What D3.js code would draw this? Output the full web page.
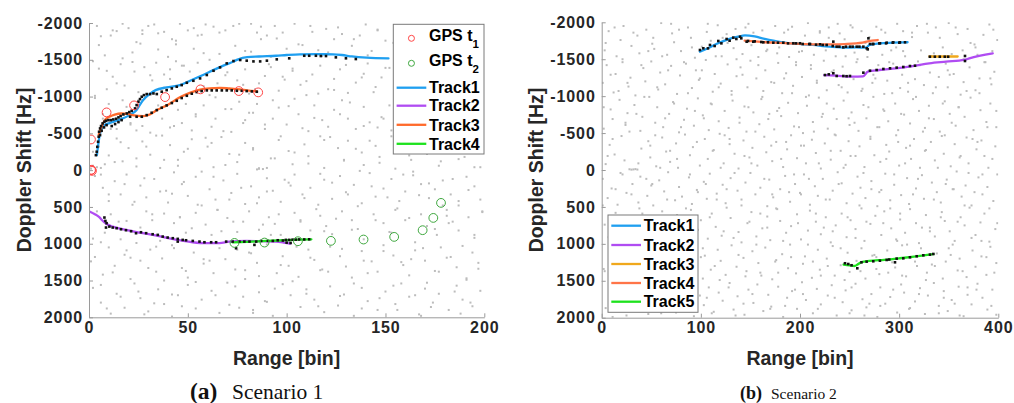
<!DOCTYPE html>
<html>
<head>
<meta charset="utf-8">
<script src="https://cdn.jsdelivr.net/npm/d3@7"></script>
<style>
  body { margin: 0; background: #fff; }
  svg { display: block; }
  text { font-family: "Liberation Sans", Arial, Helvetica, sans-serif; }
</style>
</head>
<body>
<svg id="fig" width="1014" height="403"></svg>
<script>
// ---------------- shared ticks ----------------
const dopplerTicks = [-2000, -1500, -1000, -500, 0, 500, 1000, 1500, 2000];
const rangeTicksA = [0, 50, 100, 150, 200];
const rangeTicksB = [0, 100, 200, 300, 400];

// ---------------- Scenario 1 : tracks ----------------
const track1RangeA   = [4, 5.6, 7.8, 10.3, 15.4, 20.5, 24, 27.3, 30.5, 33.7, 39.2, 46, 50, 56.5, 66.3, 72.8, 75.5, 80, 86, 94.7, 100, 106.7, 115, 123.5, 128, 133, 140.4, 151.5];
const track1DopplerA = [-204, -499, -612, -640, -685, -748, -816, -950, -1030, -1088, -1124, -1156, -1201, -1280, -1400, -1474, -1506, -1535, -1545, -1555, -1565, -1574, -1576, -1574, -1565, -1545, -1528, -1519];
const track2RangeA   = [0, 3, 5.2, 7, 8.6, 12, 18.7, 25.5, 32.2, 39, 45.7, 52.5, 59.2, 66, 71, 79.5, 87.9, 94.7, 98.5, 101.8];
const track2DopplerA = [560, 600, 640, 690, 725, 768, 812, 848, 880, 916, 952, 980, 993, 993, 972, 963, 966, 970, 985, 998];
const track3RangeA   = [4.9, 6.5, 8.3, 10.6, 13, 16.5, 19.5, 22, 27.5, 31, 34.3, 40, 46, 51, 56.2, 61, 66.3, 71, 76.5, 80, 85];
const track3DopplerA = [-480, -600, -690, -730, -755, -770, -765, -748, -735, -760, -816, -890, -990, -1050, -1095, -1112, -1118, -1110, -1098, -1085, -1072];
const track4RangeA   = [72.7, 80, 90, 99.7, 106, 112.5];
const track4DopplerA = [982, 975, 962, 952, 945, 940];

const gpsT1RangeA   = [1, 1, 1.5, 1.2, 8.9, 22.8, 38.5, 56.4, 75.8, 85.6];
const gpsT1DopplerA = [-417, 0, 10, -5, -785, -880, -993, -1098, -1075, -1057];
const gpsT2RangeA   = [73.6, 88.8, 105.7, 122.4, 138.9, 154.4, 168.8, 174.2, 178.1];
const gpsT2DopplerA = [989, 984, 966, 961, 943, 907, 816, 649, 445];

// plot detections [range, doppler]
const detectionsA = [
  [3.5,-204],[3.9,-250],[4.2,-317],[4.6,-386],[4.9,-454],[5.1,-522],[5.6,-567],[6.1,-599],[6.9,-635],[7.8,-658],
  [8.6,-671],[9.8,-680],[11,-680],[12.3,-689],[13.7,-698],[14.9,-717],[16,-735],[17.4,-757],[19.1,-771],[20.4,-789],
  [21.6,-807],[23.3,-839],[24.1,-884],[25,-930],[25.8,-966],[26.7,-998],[27.8,-1020],[29.2,-1034],[30.9,-1034],[32.6,-1043],
  [34.3,-1034],[36.8,-1066],[39.3,-1088],[41.9,-1111],[44.4,-1134],[46.9,-1156],[49.5,-1188],[52.8,-1215],[56.2,-1247],[59.6,-1293],
  [63,-1351],[66.3,-1397],[69.7,-1451],[73.1,-1483],[76.5,-1497],[79.8,-1488],[83.2,-1478],[86.6,-1478],[90,-1488],[95,-1506],
  [101.3,-1520],[108.9,-1555],[111.4,-1555],[114.8,-1555],[117.3,-1551],[119.9,-1551],[124.9,-1533],[130,-1520],[135,-1510],
  [5.6,-476],[6.4,-535],[7.6,-581],[8.9,-612],[11.5,-599],[13.2,-626],[14.9,-653],[16.5,-680],[20.8,-726],[24.1,-726],
  [26.7,-726],[29.2,-748],[31.7,-780],[34.3,-816],[36.8,-848],[39.3,-880],[41.9,-912],[44.4,-943],[46.9,-980],[49.5,-1011],
  [52,-1039],[54.5,-1061],[57,-1075],[59.6,-1084],[62.1,-1084],[64.6,-1084],[67.2,-1084],[69.7,-1084],[72.2,-1084],[74.8,-1079],
  [77.3,-1079],[79.8,-1075],[82.4,-1070],[84.9,-1066],
  [7.8,644],[8.3,690],[8.9,721],[8.6,780],[10.3,767],[12,780],[14,789],[16.2,803],[18.7,816],[21.3,830],
  [23.8,857],[26.3,844],[28.9,857],[32.2,871],[34.8,880],[37.3,903],[39.8,916],[42.4,925],[44.9,934],[44.9,971],
  [47.4,948],[49.1,953],[52.5,962],[55.9,971],[58.4,980],[61.8,980],[64.3,980],[69.4,971],[72.7,971],[74.4,1061],
  [76.1,971],[78.6,971],[81.2,971],[83.7,1016],[84.6,971],[87.1,962],[90.5,962],[93,962],[95.5,953],[98.1,957],
  [99.6,948],[101.3,948],[103,945],[104.6,945],[106.3,942],[108.9,942],[111.4,940],[100,985],[102,990]
];

// background detections (clutter) [range, doppler]
const clutterA = [
  [4,-1960],[6,-1820],[11,-1830],[14,-1890],[17,-1990],[20,-1930],[24,-1740],[26,-1720],[27,-1900],[30,-1960],
  [33,-1980],[35,-1860],[38,-1880],[42,-1780],[44,-1710],[46,-1990],[50,-1900],[55,-1830],[57,-1840],[59,-1980],
  [63,-1950],[69,-1900],[73,-1960],[76,-1990],[82,-1990],[85,-1870],[87,-1780],[90,-1830],[94,-1960],[98,-1870],
  [104,-1990],[108,-1700],[112,-1960],[116,-1630],[120,-1920],[124,-1780],[128,-1850],[133,-1690],[137,-1830],[140,-1980],
  [143,-1620],[146,-1900],[150,-1760],[8,-1560],[22,-1600],[40,-1540],[53,-1650],[66,-1580],[79,-1620],[92,-1540],[100,-1650],
  [2,-1480],[5,-1380],[9,-1100],[12,-1270],[16,-1440],[18,-1150],[23,-1340],[25,-1060],[28,-1400],[32,-1220],
  [34,-1460],[38,-1300],[41,-1370],[44,-1480],[48,-1420],[51,-1340],[55,-1460],[58,-1140],[61,-1020],[65,-1180],
  [69,-1290],[71,-1100],[75,-1220],[79,-1370],[81,-1040],[86,-1180],[89,-1280],[92,-1400],[96,-1080],[99,-1230],
  [103,-1350],[107,-1160],[110,-1020],[113,-1300],[117,-1420],[121,-1100],[124,-1240],[127,-1370],[131,-1050],[135,-1190],
  [139,-1310],[141,-1450],[145,-1130],[148,-1260],[152,-1390],
  [3,-980],[7,-760],[10,-900],[14,-560],[17,-950],[21,-620],[24,-540],[27,-600],[31,-510],[35,-880],
  [37,-700],[41,-580],[45,-820],[47,-640],[52,-540],[54,-760],[58,-880],[62,-590],[64,-700],[69,-830],
  [72,-520],[76,-930],[78,-640],[83,-780],[85,-900],[89,-560],[93,-700],[96,-850],[100,-620],[104,-970],
  [106,-760],[111,-530],[114,-880],[118,-680],[121,-590],[124,-820],[128,-950],[131,-700],[135,-560],[139,-860],
  [142,-650],[146,-580],[149,-700],[153,-540],[158,-640],[163,-600],[168,-680],[173,-540],[179,-620],[185,-580],
  [191,-660],[197,-520],
  [1,-20],[2,-60],[4,-40],[6,-30],[8,-80],[5,-320],[10,-200],[14,-430],[17,-120],[20,-300],
  [24,-50],[27,-390],[31,-210],[34,-470],[38,-140],[41,-340],[45,-60],[48,-250],[52,-420],[56,-160],
  [60,-320],[63,-40],[67,-450],[71,-220],[75,-110],[79,-370],[83,-280],[85,-10],[86,-25],[88,-15],
  [90,-30],[92,-160],[96,-410],[101,-260],[103,-80],[109,-350],[111,-190],[117,-460],[119,-30],[126,-300],
  [129,-140],[131,-400],[138,-240],[139,-70],[145,-330],[147,-180],[153,-460],[155,-20],[162,-280],[163,-140],
  [169,-390],[171,-220],[177,-60],[179,-330],[186,-460],[187,-150],[193,-260],[195,-40],[199,-380],
  [3,80],[7,240],[10,420],[13,150],[16,330],[19,60],[22,470],[26,210],[29,370],[33,120],
  [36,290],[40,440],[43,30],[47,190],[50,350],[54,90],[57,480],[61,260],[64,400],[68,140],
  [72,310],[75,50],[79,460],[82,220],[86,370],[90,110],[93,280],[97,430],[101,170],[104,60],
  [108,330],[112,240],[116,470],[119,130],[123,390],[127,80],[130,300],[134,200],[138,450],[142,40],
  [145,360],[149,250],[153,120],[157,420],[160,290],[164,70],[168,190],[172,380],[175,260],[179,140],
  [183,330],[187,480],[191,90],[195,220],[198,400],
  [2,930],[6,980],[8,700],[11,600],[16,940],[19,690],[24,990],[29,560],[32,680],[36,960],
  [38,590],[43,720],[46,640],[49,850],[54,580],[59,740],[62,880],[65,540],[70,650],[75,840],
  [78,700],[81,560],[86,810],[91,640],[94,730],[97,880],[104,580],[107,700],[112,820],[117,620],
  [120,760],[123,870],[128,560],[133,680],[136,800],[139,940],[144,600],[149,720],[152,840],[155,540],
  [160,680],[165,980],[168,600],[171,760],[176,880],[181,540],[184,700],[187,820],[192,640],[195,920],[199,560],
  [3,1180],[7,1420],[10,1050],[13,1300],[18,1150],[21,1480],[26,1230],[31,1080],[34,1380],[37,1200],
  [42,1020],[47,1330],[50,1460],[53,1120],[58,1270],[63,1400],[66,1060],[69,1210],[74,1350],[79,1480],
  [82,1130],[85,1260],[90,1010],[95,1400],[98,1170],[101,1300],[106,1450],[111,1080],[114,1220],[117,1360],
  [122,1040],[127,1170],[130,1310],[133,1460],[138,1100],[143,1240],[146,1380],[149,1020],[154,1160],[159,1290],
  [162,1430],[165,1090],[170,1230],[175,1370],[178,1050],[181,1190],[186,1320],[191,1470],[194,1120],[197,1260],
  [2,1600],[6,1800],[11,1950],[14,1680],[18,1870],[23,1540],[26,1740],[30,1920],[35,1620],[38,1820],
  [42,1990],[45,1700],[50,1560],[54,1880],[57,1760],[62,1640],[66,1940],[71,1830],[74,1580],[78,1720],
  [83,1900],[86,1660],[90,1790],[93,1980],[98,1550],[102,1700],[107,1860],[110,1620],[114,1760],[119,1930],
  [122,1580],[126,1840],[129,1690],[134,1980],[138,1600],[141,1780],[146,1900],[150,1650],[155,1820],[158,1540],
  [162,1720],[167,1960],[170,1610],[174,1800],[177,1680],[182,1900],[186,1570],[189,1760],[194,1850],[198,1640],
  // second sweep, column by column
  [12,-1900],[5,-1700],[17,-1520],[9,-1350],[14,-1180],[3,-1010],[19,-860],[7,-700],[11,-560],[16,-380],
  [2,-250],[13,-110],[6,60],[18,190],[10,330],[4,560],[15,700],[8,850],[19,1090],[1,1240],[12,1390],[6,1560],[16,1720],[9,1880],
  [27,-1850],[35,-1640],[22,-1470],[31,-1290],[38,-1120],[25,-950],[33,-790],[21,-640],[37,-470],[29,-320],
  [24,-160],[36,-30],[28,110],[39,280],[23,430],[32,600],[26,780],[34,1040],[21,1190],[30,1330],[38,1500],[25,1650],[33,1810],[28,1960],
  [53,-1930],[44,-1760],[58,-1590],[47,-1420],[41,-1240],[56,-1080],[49,-900],[54,-730],[43,-600],[59,-440],
  [50,-290],[45,-140],[57,20],[48,160],[42,320],[55,470],[46,640],[52,790],[43,1060],[58,1210],[49,1370],[54,1520],[42,1690],[47,1850],
  [66,-1870],[74,-1690],[61,-1500],[70,-1330],[78,-1160],[64,-990],[72,-830],[79,-680],[68,-530],[62,-370],
  [76,-210],[69,-70],[63,90],[77,240],[71,400],[65,540],[73,700],[67,830],[75,1080],[61,1230],[79,1360],[70,1530],[64,1700],[76,1870],
  [87,-1950],[95,-1790],[82,-1610],[91,-1440],[98,-1270],[84,-1100],[93,-950],[81,-780],[89,-620],[97,-460],
  [83,-300],[94,-160],[86,-20],[99,130],[90,290],[85,450],[96,600],[88,740],[92,880],[81,1120],[97,1290],[86,1440],[94,1610],[89,1780],[83,1940],
  [113,-1880],[106,-1710],[118,-1550],[103,-1380],[110,-1210],[116,-1040],[101,-870],[114,-710],[108,-570],[119,-410],
  [104,-240],[111,-90],[117,50],[102,210],[109,380],[115,530],[107,680],[119,830],[105,1040],[112,1190],[118,1350],[103,1510],[110,1680],[116,1850],
  [126,-1940],[134,-1780],[121,-1600],[130,-1430],[138,-1260],[124,-1090],[132,-920],[127,-760],[139,-600],[122,-450],
  [135,-290],[129,-130],[137,10],[123,170],[131,330],[136,490],[125,660],[133,810],[128,1070],[139,1230],[121,1380],[134,1540],[127,1710],[138,1880],
  [146,-1910],[154,-1730],[141,-1560],[150,-1390],[158,-1230],[144,-1060],[152,-880],[148,-720],[157,-560],[142,-400],
  [155,-250],[147,-100],[159,60],[143,220],[151,370],[156,520],[145,680],[153,850],[149,1100],[158,1250],[141,1400],[154,1570],[147,1740],[156,1900],
  [166,-700],[174,-540],[161,-420],[170,-280],[178,-120],[164,20],[172,180],[167,340],[179,480],[162,650],
  [175,800],[169,1060],[163,1210],[177,1380],[171,1530],[165,1700],[173,1860],[168,1980],[176,-350],[162,-200],
  [186,-640],[194,-470],[181,-330],[190,-180],[198,-40],[184,120],[192,270],[187,420],[199,570],[182,720],
  [195,880],[189,1030],[183,1180],[197,1340],[191,1490],[185,1650],[193,1800],[188,1950],[196,-250],[181,620]
];

// ---------------- Scenario 2 : tracks ----------------
const track1RangeB   = [99, 107.2, 117.3, 127.4, 137.5, 144.5, 154.3, 164.4, 174.5, 184.6, 195, 212.8, 229.6, 246.4, 256.5, 266.6, 270, 280, 293.5, 308.5];
const track1DopplerB = [-1602, -1648, -1716, -1770, -1805, -1822, -1808, -1774, -1747, -1724, -1710, -1693, -1670, -1656, -1661, -1656, -1693, -1716, -1724, -1730];
const track2RangeB   = [224.5, 236.3, 253.1, 263.5, 268.5, 280, 296.8, 313.7, 330.4, 347.3, 365.7, 370.8, 394.4];
const track2DopplerB = [-1286, -1277, -1264, -1268, -1331, -1354, -1377, -1408, -1445, -1467, -1490, -1512, -1580];
const track3RangeB   = [330.5, 359];
const track3DopplerB = [-1537, -1537];
const track4RangeB   = [144.2, 157.6, 174.5, 195, 215, 233.6, 245, 263, 268.3, 278.4];
const track4DopplerB = [-1751, -1737, -1724, -1710, -1700, -1700, -1705, -1724, -1743, -1760];
const track5RangeB   = [244, 250, 255, 258, 262, 270, 285, 300, 315, 334.5];
const track5DopplerB = [1280, 1292, 1300, 1280, 1248, 1232, 1216, 1196, 1174, 1140];

const detectionsB = [
  [99.1,-1625],[102.5,-1648],[107.2,-1647],[109.2,-1693],[113.9,-1679],[117.6,-1747],[120.7,-1715],[126,-1774],[129,-1751],[132.7,-1792],
  [135.8,-1774],[139.5,-1805],[140.8,-1783],[146.2,-1737],[147.6,-1747],[152.9,-1737],[154.3,-1742],[161,-1733],[163,-1729],[167.7,-1729],
  [173.1,-1724],[177.8,-1724],[183.2,-1724],[187.9,-1715],[193.3,-1716],[196,-1715],[200,-1716],[202.7,-1706],[209.4,-1706],[210.1,-1706],
  [216.2,-1697],[220.2,-1702],[222.9,-1693],[226.9,-1693],[233,-1679],[233.6,-1738],[237,-1670],[239.7,-1670],[243.7,-1661],[246.4,-1670],
  [250.4,-1670],[253.1,-1670],[257.2,-1670],[259.9,-1670],[263.9,-1670],[267.3,-1648],[268.3,-1634],[269,-1783],[270.6,-1706],[273.3,-1706],
  [274,-1706],[280,-1715],[280.7,-1716],[286.8,-1715],[287.4,-1724],[293.5,-1724],[294.1,-1729],[300.2,-1724],[300.8,-1729],[305.9,-1729],
  [225.2,-1286],[229,-1295],[233.6,-1310],[237,-1273],[243.7,-1273],[247,-1270],[250.4,-1273],[263.9,-1318],[270.6,-1345],[277.3,-1354],
  [284.1,-1368],[290.8,-1377],[297.5,-1386],[304.2,-1395],[310.9,-1408],[316,-1412],[366.4,-1476],[366.4,-1544],
  [331,-1534],[336,-1534],[341,-1534],[346,-1534],[349.4,-1534],
  [245.4,1263],[248.7,1273],[252,1290],[257.8,1331],[262,1250],[267.2,1241],[273.9,1236],[280.6,1228],[287.4,1218],[290,1212],
  [295.8,1250],[297.5,1200],[304.2,1196],[310.9,1182],[317.7,1168],[324.4,1155],[331.1,1146],[334.5,1137]
];

const clutterB = [
  [3,-1620],[7,-1880],[15,-1540],[19,-1760],[22,-1950],[30,-1680],[36,-1820],[38,-1580],[45,-1900],[51,-1710],
  [53,-1640],[60,-1990],[66,-1560],[71,-1850],[73,-1730],[80,-1610],[87,-1930],[90,-1790],[94,-1520],[101,-1670],
  [106,-1870],[110,-1750],[117,-1960],[121,-1540],[126,-1840],[133,-1650],[135,-1910],[142,-1570],[148,-1980],[151,-1690],
  [158,-1530],[162,-1890],[167,-1630],[175,-1950],[177,-1580],[184,-1860],[189,-1530],[192,-1940],[199,-1600],[205,-1820],
  [208,-1990],[214,-1560],[220,-1880],[226,-1620],[229,-1930],[236,-1540],[240,-1850],[245,-1770],[251,-1960],[255,-1590],
  [262,-1880],[268,-1530],[270,-1800],[277,-1940],[283,-1560],[286,-1860],[292,-1620],[298,-1980],[304,-1880],[306,-1540],
  [313,-1800],[318,-1950],[322,-1620],[329,-1860],[335,-1580],[337,-1930],[344,-1660],[350,-1990],[353,-1570],[359,-1840],
  [364,-1620],[369,-1910],[376,-1700],[379,-1560],[385,-1830],[391,-1970],[394,-1610],[399,-1760],
  [1,-1180],[5,-1420],[12,-1050],[14,-1300],[21,-1460],[27,-1130],[29,-1250],[34,-1010],[42,-1380],[44,-1200],
  [50,-1470],[57,-1090],[59,-1320],[64,-1160],[70,-1410],[76,-1030],[79,-1280],[85,-1440],[91,-1110],[95,-1350],
  [98,-1220],[105,-1490],[112,-1060],[114,-1300],[120,-1170],[127,-1430],[131,-1020],[136,-1270],[140,-1390],[147,-1120],
  [150,-1480],[156,-1240],[163,-1070],[165,-1350],[171,-1190],[178,-1450],[182,-1040],[186,-1310],[193,-1140],[196,-1420],
  [202,-1260],[209,-1010],[211,-1370],[217,-1210],[224,-1480],[227,-1080],[232,-1330],[239,-1150],[243,-1400],[248,-1050],
  [254,-1230],[257,-1460],[263,-1100],[270,-1340],[273,-1180],[279,-1420],[285,-1030],[288,-1210],[294,-1440],[301,-1110],
  [303,-1290],[309,-1060],[316,-1230],[319,-1470],[325,-1150],[331,-1320],[334,-1040],[340,-1260],[347,-1440],[349,-1120],
  [355,-1300],[362,-1020],[365,-1190],[371,-1390],[377,-1080],[381,-1240],[387,-1460],[393,-1160],[396,-1330],
  [2,-560],[9,-820],[11,-690],[18,-950],[24,-610],[26,-770],[33,-880],[39,-530],[41,-720],[48,-990],
  [54,-640],[56,-850],[62,-580],[68,-760],[72,-920],[78,-510],[83,-680],[86,-830],[93,-600],[97,-970],
  [102,-740],[108,-540],[111,-890],[118,-660],[124,-800],[128,-570],[132,-940],[139,-710],[144,-860],[146,-520],
  [153,-780],[159,-620],[161,-960],[168,-690],[174,-550],[179,-840],[181,-730],[188,-910],[194,-590],[198,-770],
  [203,-500],[207,-870],[213,-650],[219,-980],[222,-720],[228,-560],[234,-830],[237,-690],[244,-940],[250,-610],
  [252,-780],[259,-530],[264,-880],[267,-700],[274,-990],[280,-580],[284,-820],[289,-660],[296,-900],[299,-540],
  [305,-750],[311,-630],[314,-960],[320,-800],[326,-570],[330,-870],[335,-690],[341,-520],[346,-930],[351,-760],
  [357,-600],[360,-850],[366,-720],[372,-980],[375,-540],[382,-810],[388,-650],[392,-900],[398,-580],
  [4,-80],[8,-340],[13,-210],[20,-460],[23,-130],[28,-10],[30,-5],[32,-8],[34,-12],[36,-6],
  [40,-290],[47,-390],[49,-170],[55,-50],[61,-440],[65,-250],[69,-110],[75,-360],[77,-30],[84,-480],
  [89,-200],[92,-310],[99,-60],[104,-420],[107,-150],[113,-270],[119,-490],[123,-90],[129,-350],[134,-220],
  [138,-20],[143,-400],[149,-170],[152,-300],[157,-60],[164,-450],[166,-240],[172,-120],[176,-380],[183,-40],
  [187,-280],[191,-470],[197,-160],[201,-330],[206,-90],[212,-410],[216,-230],[221,-20],[225,-360],[231,-140],
  [235,-480],[241,-260],[246,-70],[249,-390],[256,-190],[260,-320],[265,-40],[271,-450],[275,-200],[281,-110],
  [287,-340],[290,-250],[297,-470],[300,-60],[307,-300],[312,-150],[315,-420],[321,-30],[327,-270],[332,-380],
  [336,-130],[343,-460],[345,-220],[352,-50],[356,-350],[361,-170],[368,-440],[370,-90],[378,-280],[383,-400],
  [386,-190],[390,-30],[397,-320],
  [1,120],[6,380],[10,250],[16,470],[21,60],[25,310],[31,190],[37,440],[39,90],[46,350],
  [50,210],[52,480],[58,140],[63,290],[67,30],[74,410],[78,230],[81,360],[88,100],[91,460],
  [96,270],[103,160],[106,390],[109,50],[116,320],[122,200],[125,450],[130,110],[137,280],[141,400],
  [145,170],[150,40],[155,330],[160,240],[167,490],[169,130],[173,370],[180,260],[185,80],[190,430],
  [195,190],[200,310],[204,60],[210,470],[215,220],[218,350],[223,120],[230,400],[233,280],[238,30],
  [242,180],[247,450],[253,320],[258,90],[261,240],[266,380],[272,150],[278,490],[282,270],[286,50],
  [291,410],[295,200],[302,340],[308,110],[310,460],[317,250],[323,70],[325,390],[333,170],[338,300],
  [342,440],[348,130],[354,260],[358,20],[363,360],[367,210],[373,480],[380,100],[384,330],[389,230],
  [395,420],[399,60],
  [3,740],[7,910],[14,580],[17,830],[22,670],[29,990],[32,760],[38,520],[43,880],[46,640],
  [53,790],[57,950],[61,560],[66,700],[73,860],[76,610],[82,970],[86,730],[90,540],[97,810],
  [100,680],[107,930],[111,590],[115,770],[121,890],[126,510],[130,650],[138,840],[141,980],[147,720],
  [151,570],[156,900],[162,790],[167,630],[170,950],[177,530],[180,690],[186,850],[191,760],[197,600],
  [201,940],[208,820],[210,550],[216,700],[221,870],[226,640],[231,980],[236,750],[242,590],[247,910],
  [251,680],[256,800],[262,520],[265,960],[271,730],[276,620],[282,880],[285,560],[292,790],[297,940],
  [301,670],[306,850],[311,530],[317,720],[320,990],[327,610],[331,780],[336,900],[343,570],[346,690],
  [351,830],[356,960],[362,640],[366,750],[371,510],[377,880],[382,710],[386,590],[391,970],[397,800],
  [2,1340],[9,1090],[12,1460],[16,1210],[24,1030],[27,1380],[34,1150],[37,1490],[41,1270],[48,1060],
  [52,1410],[55,1180],[63,1320],[65,1010],[71,1450],[77,1240],[80,1120],[87,1370],[92,1040],[94,1290],
  [102,1470],[104,1160],[110,1350],[117,1080],[120,1230],[125,1420],[131,1020],[136,1310],[143,1190],[145,1440],
  [152,1100],[158,1260],[160,1390],[165,1050],[172,1480],[176,1220],[182,1140],[188,1330],[190,1010],[196,1400],
  [203,1270],[205,1170],[212,1460],[218,1080],[220,1350],[227,1200],[233,1030],[235,1430],[241,1290],[248,1120],
  [250,1380],[257,1230],[262,1060],[266,1470],[273,1160],[277,1340],[280,1410],[288,1090],[293,1250],[296,1320],
  [303,1020],[307,1440],[312,1180],[318,1300],[322,1060],[328,1390],[333,1280],[338,1130],[344,1470],[347,1240],
  [354,1010],[359,1360],[361,1200],[368,1450],[374,1090],[377,1310],[383,1170],[388,1420],[392,1040],[398,1260],
  [4,1870],[8,1620],[11,1990],[19,1740],[21,1540],[26,1900],[33,1680],[35,1810],[40,1570],[47,1950],
  [50,1720],[56,1600],[61,1860],[64,1510],[69,1780],[75,1930],[79,1650],[84,1840],[89,1560],[93,1980],
  [99,1700],[103,1830],[108,1590],[113,1920],[118,1660],[122,1770],[129,1530],[133,1890],[137,1710],[144,1960],
  [148,1620],[153,1800],[157,1550],[163,1910],[168,1690],[171,1850],[178,1580],[183,1990],[187,1730],[192,1640],
  [197,1880],[202,1520],[206,1760],[213,1940],[217,1610],[221,1820],[228,1700],[232,1560],[237,1970],[243,1790],
  [246,1630],[252,1900],[256,1540],[263,1750],[267,1860],[272,1680],[278,1990],[281,1590],[286,1810],[291,1720],
  [298,1930],[302,1550],[305,1660],[311,1870],[316,1780],[321,1600],[326,1950],[329,1700],[335,1530],[340,1840],
  [345,1640],[349,1910],[353,1760],[360,1580],[365,1980],[369,1690],[373,1820],[379,1540],[384,1730],[389,1890],
  [394,1620],[398,1960],
  // second sweep, column by column
  [13,-1930],[4,-1720],[21,-1500],[9,-1290],[17,-1070],[2,-850],[24,-640],[11,-420],[6,-190],[19,40],
  [14,260],[1,480],[23,700],[8,920],[16,1150],[3,1370],[20,1590],[10,1810],[25,1970],
  [32,-1860],[47,-1610],[40,-1420],[26,-1180],[43,-990],[35,-760],[28,-520],[49,-330],[37,-90],[45,120],
  [30,330],[41,590],[34,780],[48,1010],[27,1240],[39,1430],[44,1680],[31,1880],
  [70,-1980],[52,-1790],[61,-1540],[67,-1350],[56,-1120],[73,-900],[64,-700],[54,-470],[69,-260],[59,-30],
  [51,190],[66,400],[74,640],[58,830],[63,1060],[71,1300],[53,1490],[68,1730],[60,1940],
  [78,-1900],[91,-1660],[83,-1460],[99,-1240],[87,-1040],[94,-800],[80,-580],[96,-380],[76,-150],[89,60],
  [97,300],[85,520],[92,720],[81,960],[100,1180],[86,1390],[77,1620],[95,1840],
  [107,-1980],[122,-1790],[115,-1540],[101,-1350],[118,-1120],[110,-900],[103,-700],[124,-470],[112,-260],[120,-30],
  [105,190],[116,400],[109,640],[123,830],[102,1060],[114,1300],[119,1490],[106,1730],[111,1940],
  [145,-1930],[127,-1720],[136,-1500],[142,-1290],[131,-1070],[148,-850],[139,-640],[129,-420],[144,-190],[134,40],
  [126,260],[141,480],[149,700],[133,920],[138,1150],[146,1370],[128,1590],[143,1810],[135,1970],
  [153,-1860],[166,-1610],[158,-1420],[174,-1180],[162,-990],[169,-760],[155,-520],[171,-330],[151,-90],[164,120],
  [172,330],[160,590],[167,780],[156,1010],[175,1240],[161,1430],[152,1680],[170,1880],
  [188,-1900],[179,-1660],[196,-1460],[184,-1240],[192,-1040],[177,-800],[199,-580],[186,-380],[181,-150],[194,60],
  [189,300],[176,520],[198,720],[183,960],[191,1180],[178,1390],[195,1620],[185,1840],
  [220,-1860],[202,-1610],[211,-1420],[217,-1180],[206,-990],[223,-760],[214,-520],[204,-330],[219,-90],[209,120],
  [201,330],[216,590],[224,780],[208,1010],[213,1240],[221,1430],[203,1680],[218,1880],
  [238,-1980],[229,-1790],[246,-1540],[234,-1350],[242,-1120],[227,-900],[249,-700],[236,-470],[231,-260],[244,-30],
  [239,190],[226,400],[248,640],[233,830],[241,1060],[228,1300],[245,1490],[235,1730],[250,1940],
  [253,-1930],[266,-1720],[258,-1500],[274,-1290],[262,-1070],[269,-850],[255,-640],[271,-420],[251,-190],[264,40],
  [272,260],[260,480],[267,700],[256,920],[275,1150],[261,1370],[252,1590],[270,1810],[265,1970],
  [282,-1900],[297,-1660],[290,-1460],[276,-1240],[293,-1040],[285,-800],[278,-580],[299,-380],[287,-150],[295,60],
  [280,300],[291,520],[284,720],[298,960],[277,1180],[289,1390],[294,1620],[281,1840],
  [313,-1860],[304,-1610],[321,-1420],[309,-1180],[317,-990],[302,-760],[324,-520],[311,-330],[306,-90],[319,120],
  [314,330],[301,590],[323,780],[308,1010],[316,1240],[303,1430],[320,1680],[310,1880],
  [328,-1980],[341,-1790],[333,-1540],[349,-1350],[337,-1120],[344,-900],[330,-700],[346,-470],[326,-260],[339,-30],
  [347,190],[335,400],[342,640],[331,830],[350,1060],[336,1300],[327,1490],[345,1730],[340,1940],
  [357,-1930],[372,-1720],[365,-1500],[351,-1290],[368,-1070],[360,-850],[353,-640],[374,-420],[362,-190],[370,40],
  [355,260],[366,480],[359,700],[373,920],[352,1150],[364,1370],[369,1590],[356,1810],[361,1970],
  [395,-1900],[377,-1660],[386,-1460],[392,-1240],[381,-1040],[398,-800],[389,-580],[379,-380],[394,-150],[384,60],
  [376,300],[391,520],[399,720],[383,960],[388,1180],[396,1390],[378,1620],[393,1840]
];

// ---------------- drawing ----------------
const svg = d3.select("#fig");
svg.append("rect").attr("width", 1014).attr("height", 403).attr("fill", "#fff");

const zip = (xs, ys) => xs.map((v, i) => [v, ys[i]]);

const panels = [
  {
    key: "a",
    frame: { left: 89, right: 484.3, top: 23, bottom: 317.3 },
    rangeMax: 200, rangeTicks: rangeTicksA,
    clutter: clutterA, detections: detectionsA,
    tracks: [
      { name: "Track1", color: "#1f9ff0", pts: zip(track1RangeA, track1DopplerA) },
      { name: "Track2", color: "#b04cf2", pts: zip(track2RangeA, track2DopplerA) },
      { name: "Track3", color: "#ff6a2b", pts: zip(track3RangeA, track3DopplerA) },
      { name: "Track4", color: "#1de21d", pts: zip(track4RangeA, track4DopplerA) }
    ],
    gps: [
      { label: "GPS t", sub: "1", color: "#ff4646", pts: zip(gpsT1RangeA, gpsT1DopplerA) },
      { label: "GPS t", sub: "2", color: "#3fa83f", pts: zip(gpsT2RangeA, gpsT2DopplerA) }
    ],
    legend: { x: 393.3, y: 24.3, w: 90.7, h: 129.7, rows: [38.3, 63.3, 87.7, 105.7, 124.8, 143.8] },
    yLabelX: 31, yLabelY: 170,
    caption: { y: 399, boldX: 190, boldSize: 23.5, textX: 232, textSize: 21.5, bold: "(a)", text: "Scenario 1" }
  },
  {
    key: "b",
    frame: { left: 601.7, right: 998.3, top: 22.3, bottom: 317.7 },
    rangeMax: 400, rangeTicks: rangeTicksB,
    clutter: clutterB, detections: detectionsB,
    tracks: [
      { name: "Track1", color: "#1f9ff0", pts: zip(track1RangeB, track1DopplerB) },
      { name: "Track2", color: "#b04cf2", pts: zip(track2RangeB, track2DopplerB) },
      { name: "Track3", color: "#f0a81c", pts: zip(track3RangeB, track3DopplerB) },
      { name: "Track4", color: "#ff7548", pts: zip(track4RangeB, track4DopplerB) },
      { name: "Track5", color: "#1de21d", pts: zip(track5RangeB, track5DopplerB) }
    ],
    gps: [],
    legend: { x: 608, y: 215, w: 90, h: 97.3, rows: [225.7, 245, 264, 283, 301.7] },
    yLabelX: 543, yLabelY: 170,
    caption: { y: 399, boldX: 740, boldSize: 18, textX: 771, textSize: 15.5, bold: "(b)", text: "Scenario 2" }
  }
];

panels.forEach(p => {
  const f = p.frame;
  const x = d3.scaleLinear().domain([0, p.rangeMax]).range([f.left, f.right]);
  const y = d3.scaleLinear().domain([-2000, 2000]).range([f.top, f.bottom]);
  const g = svg.append("g");

  const clipId = "clip-" + p.key;
  svg.append("clipPath").attr("id", clipId)
    .append("rect").attr("x", f.left).attr("y", f.top)
    .attr("width", f.right - f.left).attr("height", f.bottom - f.top);

  const plot = g.append("g").attr("clip-path", `url(#${clipId})`);

  // clutter
  plot.append("g").selectAll("rect").data(p.clutter).join("rect")
    .attr("x", d => x(d[0]) - 1).attr("y", d => y(d[1]) - 1)
    .attr("width", 2).attr("height", 2).attr("fill", "#bcbcbc");

  // tracks
  const line = d3.line().x(d => x(d[0])).y(d => y(d[1])).curve(d3.curveMonotoneX);
  plot.append("g").selectAll("path").data(p.tracks).join("path")
    .attr("d", d => line(d.pts)).attr("fill", "none")
    .attr("stroke", d => d.color).attr("stroke-width", 2.3)
    .attr("stroke-linejoin", "round").attr("stroke-linecap", "round");

  // detections
  plot.append("g").selectAll("rect").data(p.detections).join("rect")
    .attr("x", d => x(d[0]) - 1.3).attr("y", d => y(d[1]) - 1.3)
    .attr("width", 2.6).attr("height", 2.6).attr("fill", "#111");

  // GPS positions
  p.gps.forEach(s => {
    plot.append("g").selectAll("circle").data(s.pts).join("circle")
      .attr("cx", d => x(d[0])).attr("cy", d => y(d[1]))
      .attr("r", 4.4).attr("fill", "none").attr("stroke", s.color).attr("stroke-width", 1);
  });

  // axes
  const axisColor = "#9a9a9a";
  const yAxis = g.append("g").attr("transform", `translate(${f.left},0)`)
    .call(d3.axisLeft(y).tickValues(dopplerTicks).tickFormat(d => String(d))
      .tickSizeInner(-4).tickSizeOuter(0).tickPadding(6));
  const xAxis = g.append("g").attr("transform", `translate(0,${f.bottom})`)
    .call(d3.axisBottom(x).tickValues(p.rangeTicks).tickFormat(d => String(d))
      .tickSizeInner(-4).tickSizeOuter(0).tickPadding(4));
  [yAxis, xAxis].forEach(a => {
    a.select(".domain").attr("stroke", axisColor);
    a.selectAll(".tick line").attr("stroke", axisColor);
    a.selectAll(".tick text").attr("fill", "#262626")
      .style("font-family", '"Liberation Sans", Arial, sans-serif')
      .style("font-size", "16px").style("font-weight", "bold").style("letter-spacing", "0.9px");
  });

  // axis titles
  g.append("text")
    .attr("x", (f.left + f.right) / 2).attr("y", 364.5)
    .attr("text-anchor", "middle").attr("fill", "#262626")
    .style("font-size", "19.5px").style("font-weight", "bold")
    .text("Range [bin]");
  g.append("text")
    .attr("transform", `translate(${p.yLabelX},${p.yLabelY}) rotate(-90)`)
    .attr("text-anchor", "middle").attr("fill", "#262626")
    .style("font-size", "19.5px").style("font-weight", "bold")
    .text("Doppler Shift [Hz]");

  // legend
  const L = p.legend;
  const lg = g.append("g");
  lg.append("rect").attr("x", L.x).attr("y", L.y).attr("width", L.w).attr("height", L.h)
    .attr("fill", "#fff").attr("stroke", "#7a7a7a").attr("stroke-width", 1);
  const entries = [
    ...p.gps.map(s => ({ kind: "gps", s })),
    ...p.tracks.map(t => ({ kind: "track", t }))
  ];
  entries.forEach((e, i) => {
    const cy = L.rows[i];
    const x0 = L.x + 3.3, x1 = L.x + 33, tx = L.x + 35.7;
    if (e.kind === "gps") {
      lg.append("circle").attr("cx", (x0 + x1) / 2).attr("cy", cy).attr("r", 3)
        .attr("fill", "none").attr("stroke", e.s.color).attr("stroke-width", 1);
      const t = lg.append("text").attr("x", tx).attr("y", cy + 2.4).attr("fill", "#000")
        .style("font-size", "16px").style("font-weight", "bold");
      t.append("tspan").text(e.s.label);
      t.append("tspan").attr("dy", 7.6).style("font-size", "11.5px").text(e.s.sub);
    } else {
      lg.append("line").attr("x1", x0).attr("x2", x1).attr("y1", cy).attr("y2", cy)
        .attr("stroke", e.t.color).attr("stroke-width", 2.3);
      lg.append("text").attr("x", tx).attr("y", cy + 5.7).attr("fill", "#000")
        .style("font-size", "16px").style("font-weight", "bold").text(e.t.name);
    }
  });

  // caption
  const c = p.caption;
  const serif = '"Liberation Serif", "Times New Roman", serif';
  g.append("text").attr("x", c.boldX).attr("y", c.y).attr("fill", "#111")
    .style("font-family", serif).style("font-size", c.boldSize + "px").style("font-weight", "bold")
    .text(c.bold);
  g.append("text").attr("x", c.textX).attr("y", c.y).attr("fill", "#111")
    .style("font-family", serif).style("font-size", c.textSize + "px")
    .text(c.text);
});
</script>
</body>
</html>
